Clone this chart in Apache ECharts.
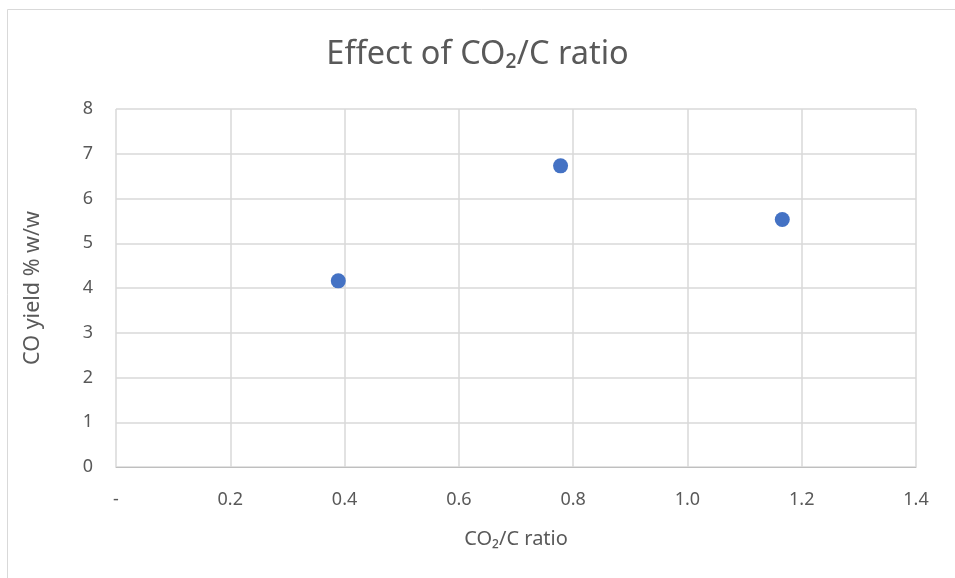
<!DOCTYPE html>
<html>
<head>
<meta charset="utf-8">
<script src="https://cdn.jsdelivr.net/npm/echarts@6/dist/echarts.min.js"></script>
<style>html,body{margin:0;padding:0;background:#fff}#c{width:955px;height:578px}</style>
</head>
<body>
<div id="c"></div>
<script>
const ratios = [0.389, 0.778, 1.166];
const coYield = [4.16, 6.73, 5.53];
const xTickLabels = ['-', '0.2', '0.4', '0.6', '0.8', '1.0', '1.2', '1.4'];
const yTickLabels = ['0', '1', '2', '3', '4', '5', '6', '7', '8'];

const font = 'Noto Sans';
const txt = '#595959';
const chart = echarts.init(document.getElementById('c'));
chart.setOption({
  backgroundColor: '#fff',
  graphic: [{
    type: 'rect', silent: true, z: -1,
    shape: {x: 7.5, y: 9.5, width: 1200, height: 1200},
    style: {fill: 'none', stroke: '#D9D9D9', lineWidth: 1}
  }],
  title: {
    text: 'Effect of CO\u2082/C ratio',
    left: 'center', top: 33,
    textStyle: {fontFamily: font, fontSize: 32.5, fontWeight: 'normal', color: txt}
  },
  grid: {left: 116, right: 39, top: 109, bottom: 111},
  xAxis: {
    type: 'value', min: 0, max: 1.4, interval: 0.2,
    name: 'CO\u2082/C ratio', nameLocation: 'middle', nameGap: 62,
    nameTextStyle: {fontFamily: font, fontSize: 20, color: txt},
    axisLine: {show: true, lineStyle: {color: '#BFBFBF', width: 1}},
    axisTick: {show: false},
    axisLabel: {
      fontFamily: font, fontSize: 18, color: txt, margin: 24,
      formatter: (v) => xTickLabels[Math.round(v / 0.2)]
    },
    splitLine: {show: true, lineStyle: {color: '#D9D9D9', width: 1.5}}
  },
  yAxis: {
    type: 'value', min: 0, max: 8, interval: 1,
    name: 'CO yield % w/w', nameLocation: 'middle', nameGap: 72,
    nameTextStyle: {fontFamily: font, fontSize: 21.5, color: txt},
    axisLine: {show: false},
    axisTick: {show: false},
    axisLabel: {
      fontFamily: font, fontSize: 18, color: txt, margin: 23,
      formatter: (v) => yTickLabels[Math.round(v)]
    },
    splitLine: {show: true, lineStyle: {color: '#D9D9D9', width: 1.5}}
  },
  series: [{
    type: 'scatter',
    data: ratios.map((x, i) => [x, coYield[i]]),
    symbol: 'circle', symbolSize: 15,
    itemStyle: {color: '#4472C4', opacity: 1}
  }]
});
</script>
</body>
</html>
